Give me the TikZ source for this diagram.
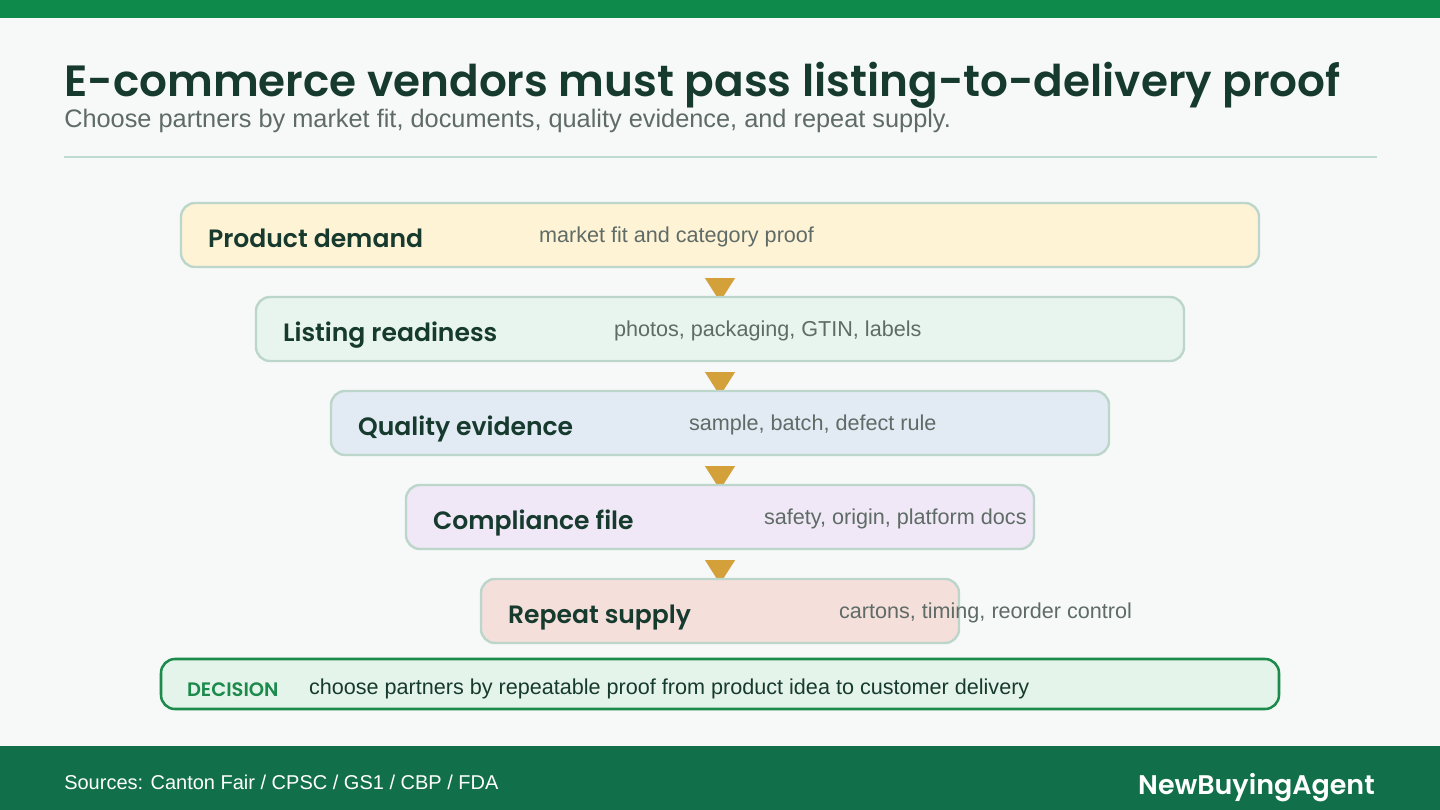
\documentclass[tikz,border=0pt]{standalone}
\usepackage{fontspec}
\setmainfont{Liberation Sans}
\newfontfamily\headfont{Poppins SemiBold}
\usetikzlibrary{calc}
\pgfdeclarelayer{background}
\pgfsetlayers{background,main}

\definecolor{pagebg}{HTML}{F6F9F8}
\definecolor{topgreen}{HTML}{0E8A4A}
\definecolor{footgreen}{HTML}{11704A}
\definecolor{inkgreen}{HTML}{173A2E}
\definecolor{subgray}{HTML}{5F6B66}
\definecolor{rulegreen}{HTML}{BFDCD0}
\definecolor{boxline}{HTML}{BCD6CC}
\definecolor{tipgold}{HTML}{D4A03A}
\definecolor{fillA}{HTML}{FFF3D6}
\definecolor{fillB}{HTML}{E8F5EE}
\definecolor{fillC}{HTML}{E2EAF3}
\definecolor{fillD}{HTML}{F0E8F6}
\definecolor{fillE}{HTML}{F5DFDB}
\definecolor{decfill}{HTML}{E5F4EB}
\definecolor{decline}{HTML}{1B8A4B}

\begin{document}
\begin{tikzpicture}[
    x=0.75pt, y=-0.75pt,
    stagebox/.style={draw=boxline, line width=1.8pt, rounded corners=10.5pt,
      minimum height=48pt, inner sep=0pt},
    stagelabel/.style={inner sep=0pt, text=inkgreen,
      font=\headfont\fontsize{18.8}{22}\selectfont},
    stagenote/.style={inner sep=0pt, text=subgray,
      font=\fontsize{16.2}{19}\selectfont},
    decisionbox/.style={draw=decline, fill=decfill, line width=1.9pt,
      rounded corners=10.5pt, inner sep=0pt},
  ]
  \useasboundingbox (0,0) rectangle (1440,810);
  \begin{pgfonlayer}{background}
    \fill[pagebg] (0,0) rectangle (1440,810);
  \end{pgfonlayer}
  \fill[topgreen] (0,0) rectangle (1440,18);

  % heading
  \node[anchor=base west, inner sep=0pt, text=inkgreen,
    font=\headfont\fontsize{32.8}{38}\selectfont]
    (title) at (64,96) {E-commerce vendors must pass listing-to-delivery proof};
  \node[anchor=base west, inner sep=0pt, text=subgray,
    font=\fontsize{19}{22}\selectfont]
    (subtitle) at (64,127) {Choose partners by market fit, documents, quality evidence, and repeat supply.};
  \draw[rulegreen, line width=1.1pt] (64,157) -- (1377,157);

  % stages
  \foreach \i/\lab/\desc/\col in {
      0/Product demand/market fit and category proof/fillA,
      1/Listing readiness/{photos, packaging, GTIN, labels}/fillB,
      2/Quality evidence/{sample, batch, defect rule}/fillC,
      3/Compliance file/{safety, origin, platform docs}/fillD,
      4/Repeat supply/{cartons, timing, reorder control}/fillE} {
    \node[stagebox, fill=\col, minimum width={0.75*(1078-150*\i)}]
      (s\i) at (720,235+94*\i) {};
    \node[stagelabel, anchor=base west] (l\i) at ($(s\i.west)+(28,12)$) {\lab};
    \node[stagenote, anchor=base west] (n\i) at ($(s\i.west)+(359,7)$) {\desc};
  }
  \begin{pgfonlayer}{background}
    \foreach \i [evaluate=\i as \j using int(\i+1)] in {0,...,3}
      \fill[tipgold] ($(s\i.south)+(-15,10)$) -- ++(30,0)
        -- ($(s\j.north)+(0,6)$) -- cycle;
  \end{pgfonlayer}

  % decision
  \node[decisionbox, minimum width=838.5pt, minimum height=37.5pt]
    (dec) at (720,684) {};
  \node[anchor=base west, inner sep=0pt, text=decline,
    font=\headfont\fontsize{14.6}{17}\selectfont]
    (dectag) at ($(dec.west)+(27,12)$) {DECISION};
  \node[anchor=base west, inner sep=0pt, text=inkgreen,
    font=\fontsize{16.2}{19}\selectfont]
    (dectext) at ($(dec.west)+(149,10)$) {choose partners by repeatable proof from product idea to customer delivery};

  % footer
  \fill[footgreen] (0,746) rectangle (1440,810);
  \node[anchor=base west, inner sep=0pt, text=white,
    font=\fontsize{15}{18}\selectfont]
    (sources) at (64,789) {Sources: Canton Fair / CPSC / GS1 / CBP / FDA};
  \node[anchor=base east, inner sep=0pt, text=white,
    font=\headfont\fontsize{20.2}{23}\selectfont]
    (brand) at (1375,794) {NewBuyingAgent};
\end{tikzpicture}
\end{document}
